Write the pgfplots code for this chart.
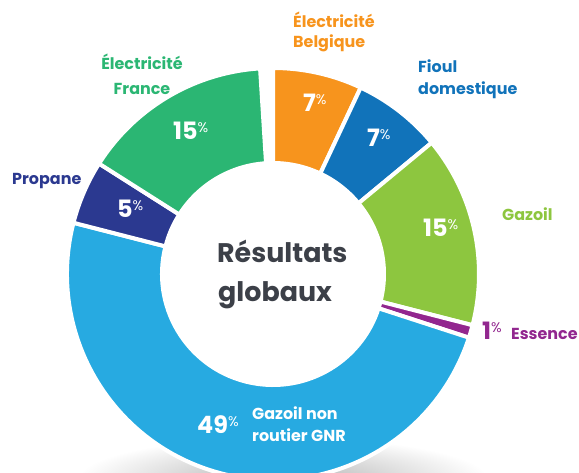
\documentclass[border=0pt]{standalone}
\usepackage{fontspec}
\setmainfont{Poppins}
\usepackage{pgfplots}
\pgfplotsset{compat=1.18}
\usepackage{pgfplotstable}

\definecolor{c0}{HTML}{F7941D}
\definecolor{c1}{HTML}{1173BA}
\definecolor{c2}{HTML}{8DC63F}
\definecolor{c3}{HTML}{92278F}
\definecolor{c4}{HTML}{27AAE1}
\definecolor{c5}{HTML}{2B3990}
\definecolor{c6}{HTML}{2BB673}
\definecolor{titre}{HTML}{3C4048}

% parts of the total, clockwise from the top
\pgfplotstableread{
part value
Belgique 7
Fioul 7
Gazoil 15
Essence 1
GNR 49
Propane 5
France 15
}\donnees

\xdef\cumul{90}
\foreach \i in {0,...,6}{%
  \pgfplotstablegetelem{\i}{value}\of\donnees
  \pgfmathsetmacro\fin{\cumul-3.6*\pgfplotsretval}%
  \expandafter\xdef\csname deb\i\endcsname{\cumul}%
  \expandafter\xdef\csname fin\i\endcsname{\fin}%
  \xdef\cumul{\fin}%
}

\def\cx{273}\def\cy{199}\def\Ro{206}\def\Ri{111}
\newcommand\lab[1]{\fontsize{#1}{#1}\selectfont\bfseries}
\newcommand\pct[1]{{\lab{24}#1\raisebox{7bp}{\fontsize{14}{14}\selectfont\mdseries\%}}}

\begin{document}
\begin{tikzpicture}[lbl/.style={inner sep=0pt, anchor=base west}]
\begin{axis}[
    width=579bp, height=473bp, scale only axis,
    xmin=0, xmax=579, ymin=0, ymax=473,
    hide axis, clip=false,
]
\begin{scope}
  \clip (axis cs:0,0) rectangle (axis cs:579,473);
  \shade[inner color=black!30, outer color=white] (axis cs:283,-6) ellipse[x radius=205, y radius=42];
\end{scope}

\pgfplotsinvokeforeach{0,...,6}{%
  \edef\tmp{\noexpand\fill[c#1, draw=white, line width=4bp]
    (axis cs:{\cx+\Ro*cos(\csname deb#1\endcsname)},{\cy+\Ro*sin(\csname deb#1\endcsname)})
    arc[start angle=\csname deb#1\endcsname, end angle=\csname fin#1\endcsname, radius=\Ro]
    -- (axis cs:{\cx+\Ri*cos(\csname fin#1\endcsname)},{\cy+\Ri*sin(\csname fin#1\endcsname)})
    arc[start angle=\csname fin#1\endcsname, end angle=\csname deb#1\endcsname, radius=\Ri]
    -- cycle;}%
  \tmp
}

% outer labels
\node[lbl, c0] at (axis cs:293,445) {\lab{16}Électricité};
\node[lbl, c0] at (axis cs:293,425) {\lab{16}Belgique};
\node[lbl, c1] at (axis cs:418,400) {\lab{16}Fioul};
\node[lbl, c1] at (axis cs:418,378) {\lab{16}domestique};
\node[lbl, c6, anchor=base] at (axis cs:142,403) {\lab{16}Électricité};
\node[lbl, c6, anchor=base] at (axis cs:142,378) {\lab{16}France};
\node[lbl, c5] at (axis cs:12,288) {\lab{16}Propane};
\node[lbl, c2] at (axis cs:502,252) {\lab{16}Gazoil};
\node[lbl, c3] at (axis cs:482,133) {\pct{1}};
\node[lbl, c3] at (axis cs:511,133) {\lab{16}Essence};

% values inside the ring
\node[lbl, white] at (axis cs:303,361) {\pct{7}};
\node[lbl, white] at (axis cs:367,326) {\pct{7}};
\node[lbl, white] at (axis cs:423,236) {\pct{15}};
\node[lbl, white] at (axis cs:173,333) {\pct{15}};
\node[lbl, white] at (axis cs:117,255) {\pct{5}};
\node[lbl, white] at (axis cs:197,39) {\pct{49}};
\node[lbl, white] at (axis cs:252,53) {\lab{16}Gazoil non};
\node[lbl, white] at (axis cs:252,31) {\lab{16}routier GNR};

% centre
\node[lbl, titre] at (axis cs:217,210) {\lab{27}Résultats};
\node[lbl, titre] at (axis cs:218,171) {\lab{27}globaux};
\end{axis}
\pgfresetboundingbox
\useasboundingbox (current axis.south west) rectangle (current axis.north east);
\end{tikzpicture}
\end{document}
